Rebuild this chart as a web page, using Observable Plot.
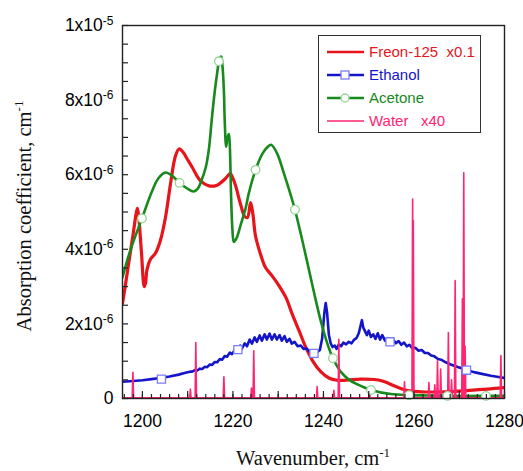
<!DOCTYPE html>
<html><head><meta charset="utf-8">
<script src="https://cdn.jsdelivr.net/npm/d3@7"></script>
<script src="https://cdn.jsdelivr.net/npm/@observablehq/plot@0.6"></script>
<style>
html,body{margin:0;padding:0;background:#fff;}
#wrap{position:relative;width:523px;height:471px;overflow:hidden;}
#legend{position:absolute;left:318px;top:35px;width:163px;height:98px;border:1.5px solid #333;box-sizing:border-box;background:#fff;}
.lrow{position:absolute;left:0;height:20px;line-height:20px;font-family:"Liberation Sans",Arial,sans-serif;font-size:15px;white-space:pre;}
.lrow svg{position:absolute;left:8px;top:0;}
.lrow span{position:absolute;left:50px;top:0;}
</style></head><body><div id="wrap"></div>
<script>
// Values are in units of 1e-6 cm^-1 (as plotted, already scaled)
const freonW = [1195.6,1196.0,1197.0,1198.0,1198.6,1198.9,1199.2,1199.8,1200.4,1200.7,1201.0,1201.8,1202.9,1204.0,1205.1,1206.2,1207.3,1208.1,1209.0,1210.0,1211.0,1212.8,1214.7,1216.5,1218.3,1219.4,1220.0,1220.6,1221.7,1222.6,1223.2,1223.9,1224.4,1225.0,1226.1,1227.2,1228.7,1230.2,1231.7,1233.1,1234.6,1236.1,1237.6,1239.4,1241.2,1243.0,1245.0,1248.2,1251.2,1253.0,1254.1,1256.4,1258.6,1261.5,1266.7,1271.1,1276.2,1280.0];
const freonV = [2.55,2.85,3.65,4.45,4.95,5.10,4.85,3.90,3.00,3.10,3.45,3.74,3.90,4.25,4.86,5.75,6.50,6.69,6.60,6.40,6.20,5.84,5.70,5.72,5.89,6.03,5.90,5.70,5.20,4.88,4.85,5.25,4.95,4.35,3.87,3.51,3.28,3.02,2.71,2.26,1.82,1.37,1.01,0.72,0.55,0.49,0.49,0.52,0.51,0.47,0.42,0.30,0.21,0.18,0.18,0.21,0.25,0.29];

const acetoneW = [1195.6,1197.3,1199.9,1202.1,1203.5,1205.1,1206.5,1208.2,1209.9,1211.3,1212.2,1212.9,1214.0,1214.7,1215.3,1216.0,1216.6,1216.9,1217.4,1217.7,1218.0,1218.2,1218.5,1218.8,1219.1,1219.3,1219.6,1219.9,1220.2,1220.8,1221.7,1222.8,1223.5,1225.0,1226.5,1228.0,1228.5,1229.8,1231.3,1232.8,1233.7,1235.0,1236.5,1237.9,1239.4,1240.9,1242.1,1243.8,1245.7,1247.5,1250.5,1254.9,1258.9,1263.0,1267.4,1275.9,1280.0];
const acetoneV = [3.25,3.96,4.83,5.55,5.90,6.06,5.98,5.78,5.63,5.55,5.62,5.80,6.20,6.70,7.45,8.25,8.80,9.04,9.17,8.90,8.26,7.40,6.75,7.00,7.09,6.80,5.40,4.50,4.20,4.30,4.65,5.10,5.50,6.13,6.56,6.78,6.80,6.56,6.02,5.44,5.06,4.41,3.61,2.85,2.08,1.46,1.08,0.72,0.50,0.38,0.23,0.12,0.09,0.08,0.07,0.07,0.07];
const acetoneMarkW = [1199.9,1208.2,1216.9,1225.0,1233.7,1242.1,1250.5,1258.9,1267.4,1275.9];
const acetoneMarkV = [4.83,5.78,9.04,6.13,5.06,1.08,0.23,0.09,0.07,0.07];

const ethanolW = [1195.6,1198.0,1200.0,1202.0,1204.0,1206.0,1208.0,1209.5,1210.5,1211.0,1211.6,1212.1,1212.7,1213.2,1213.8,1214.3,1214.9,1215.4,1216.0,1216.5,1217.1,1217.6,1218.2,1218.7,1219.3,1219.8,1220.4,1220.9,1221.6,1222.0,1222.6,1223.1,1223.7,1224.2,1224.8,1225.3,1225.9,1226.4,1227.0,1227.5,1228.1,1228.6,1229.2,1229.7,1230.3,1230.8,1231.4,1231.9,1232.5,1233.0,1233.6,1234.3,1235.0,1235.6,1236.3,1237.0,1237.8,1238.6,1239.2,1239.7,1240.2,1240.5,1240.8,1241.2,1241.6,1242.0,1242.5,1242.9,1243.4,1243.9,1244.4,1245.0,1245.6,1246.2,1246.8,1247.3,1247.8,1248.2,1248.5,1248.8,1249.2,1249.6,1250.0,1250.5,1251.0,1251.5,1252.0,1252.5,1253.0,1253.6,1254.2,1254.8,1255.4,1256.0,1256.6,1257.2,1257.8,1258.4,1259.0,1259.6,1260.3,1261.0,1261.7,1262.4,1263.1,1263.8,1264.5,1265.3,1266.0,1267.0,1268.0,1269.0,1270.0,1271.0,1272.0,1273.5,1275.0,1277.0,1279.0,1280.0];
const ethanolV = [0.45,0.47,0.49,0.52,0.55,0.59,0.64,0.69,0.72,0.72,0.76,0.75,0.80,0.79,0.85,0.84,0.91,0.90,0.98,0.97,1.06,1.04,1.14,1.12,1.23,1.19,1.30,1.27,1.42,1.34,1.48,1.40,1.58,1.47,1.64,1.52,1.69,1.55,1.72,1.58,1.74,1.58,1.72,1.58,1.70,1.55,1.67,1.52,1.60,1.47,1.52,1.40,1.42,1.33,1.34,1.25,1.22,1.24,1.30,1.60,2.30,2.56,2.30,1.70,1.48,1.38,1.42,1.33,1.45,1.40,1.50,1.45,1.52,1.48,1.58,1.62,1.75,1.95,2.10,1.90,1.80,1.70,1.82,1.65,1.72,1.60,1.75,1.58,1.70,1.55,1.62,1.52,1.58,1.48,1.54,1.44,1.50,1.40,1.44,1.35,1.36,1.28,1.30,1.22,1.22,1.15,1.13,1.06,1.04,0.97,0.92,0.87,0.83,0.79,0.75,0.70,0.66,0.61,0.57,0.55];
const ethanolMarkW = [1204.2,1221.1,1237.9,1254.7,1271.6];
const ethanolMarkV = [0.52,1.31,1.21,1.52,0.76];

// Water absorption lines (x40): line centre and peak height
const waterLineW = [1197.9,1210.6,1211.8,1218.0,1224.1,1224.6,1238.6,1242.3,1243.4,1250.2,1257.9,1259.7,1259.85,1263.3,1264.6,1265.2,1265.9,1267.6,1268.3,1269.1,1270.7,1271.0,1271.3,1279.2];
const waterLineV = [0.70,0.25,1.50,0.58,0.28,1.28,0.32,0.22,1.59,0.10,0.45,5.35,4.77,0.43,0.37,1.01,0.79,1.77,0.50,3.16,2.67,6.05,1.40,1.15];
const waterBase = 0.02;

const seriesNames = ["Freon-125  x0.1","Ethanol","Acetone","Water   x40"];
const seriesColors = ["#e8141c","#1414c8","#17891d","#ff2474"];
const markerColors = [null,"#7b7bff","#95d595",null];

const xTickLabels = [1200,1220,1240,1260,1280];
const xMinorTicks = d3.range(1196,1281,2);
const xMajorTicks = d3.range(1200,1281,10);
const yTickLabels = [0,2,4,6,8,10];
const yMinorTicks = d3.range(0,10.01,0.5);

const zip = (W,V) => W.map((w,i)=>({w, v:V[i]}));
const freon = zip(freonW, freonV);
const acetone = zip(acetoneW, acetoneV);
const acetoneMarks = zip(acetoneMarkW, acetoneMarkV);
const ethanol = zip(ethanolW, ethanolV);
const ethanolMarks = zip(ethanolMarkW, ethanolMarkV);
const water = [{w:1195.6, v:waterBase}];
waterLineW.forEach((w,i)=>{
  water.push({w:w-0.15, v:waterBase},{w, v:waterLineV[i]},{w:w+0.15, v:waterBase});
});
water.push({w:1280, v:waterBase});

const W = 523, H = 471, mL = 122, mR = 19, mT = 25, mB = 73;
const plotW = W - mL - mR, plotH = H - mT - mB;

const chart = Plot.plot({
  width: W, height: H,
  marginLeft: mL, marginRight: mR, marginTop: mT, marginBottom: mB,
  x: {domain: [1195.6, 1280]},
  y: {domain: [0, 10]},
  style: {fontFamily: "'Liberation Sans', Arial, sans-serif", fontSize: "17.5px", background: "white", color: "black", overflow: "visible"},
  marks: [
    Plot.line(freon, {x: "w", y: "v", stroke: seriesColors[0], strokeWidth: 3.2, curve: "catmull-rom", clip: true}),
    Plot.line(ethanol, {x: "w", y: "v", stroke: seriesColors[1], strokeWidth: 2.6, curve: "linear", clip: true}),
    Plot.line(acetone, {x: "w", y: "v", stroke: seriesColors[2], strokeWidth: 2.6, curve: "catmull-rom", clip: true}),
    Plot.line(water, {x: "w", y: "v", stroke: seriesColors[3], strokeWidth: 1.6, clip: true}),
    Plot.dot(ethanolMarks, {x: "w", y: "v", symbol: "square", r: 4.6, stroke: markerColors[1], fill: "white", strokeWidth: 1.3}),
    Plot.dot(acetoneMarks, {x: "w", y: "v", r: 4.3, stroke: markerColors[2], fill: "white", strokeWidth: 1.3}),
    Plot.frame({stroke: "#222", strokeWidth: 1.4}),
    Plot.tickY(yMinorTicks, {y: d => d, insetRight: plotW - 6, stroke: "#222", strokeWidth: 1.2}),
    Plot.tickX(xMinorTicks, {x: d => d, insetTop: plotH - 4, stroke: "#222", strokeWidth: 1.2}),
    Plot.tickX(xMajorTicks, {x: d => d, insetTop: plotH - 7, stroke: "#222", strokeWidth: 1.2}),
    Plot.axisX({ticks: xTickLabels, tickSize: 0, tickPadding: 16, label: null, tickFormat: d => String(d)}),
    Plot.axisY({ticks: yTickLabels, tickSize: 0, tickPadding: 9, label: null,
      tickFormat: d => d === 0 ? "0" : d === 10 ? "1x10^-5" : d + "x10^-6"})
  ]
});

const svg = d3.select(chart);
// superscripts on y tick labels
svg.selectAll('g[aria-label="y-axis tick label"] text').each(function() {
  const t = d3.select(this);
  const s = t.text();
  if (s.includes("^")) {
    const [base, exp] = s.split("^");
    t.text(base);
    t.append("tspan").attr("dy", "-0.55em").attr("font-size", "12px").text(exp);
  }
});
// axis titles
const serif = "'Liberation Serif', 'Times New Roman', serif";
const xt = svg.append("text").attr("x", 313).attr("y", 465).attr("text-anchor", "middle")
  .attr("font-family", serif).attr("font-size", "20.5px").attr("fill", "#111").text("Wavenumber, cm");
xt.append("tspan").attr("dy", "-0.6em").attr("font-size", "13px").text("-1");
const yt = svg.append("text").attr("transform", "translate(31,216) rotate(-90)").attr("text-anchor", "middle")
  .attr("font-family", serif).attr("font-size", "20.5px").attr("fill", "#111").text("Absorption coefficient, cm");
yt.append("tspan").attr("dy", "-0.6em").attr("font-size", "13px").text("-1");

const wrap = document.getElementById("wrap");
wrap.appendChild(chart);

// legend (inside the plot frame, as in the original)
const legend = document.createElement("div");
legend.id = "legend";
wrap.appendChild(legend);
const rowTops = [6, 29, 52, 75];
seriesNames.forEach((name, i) => {
  const row = document.createElement("div");
  row.className = "lrow";
  row.style.top = rowTops[i] + "px";
  let sample = `<svg width="40" height="20"><line x1="0" y1="10" x2="37" y2="10" stroke="${seriesColors[i]}" stroke-width="${i===3?1.6:2.6}"/>`;
  if (i === 1) sample += `<rect x="14" y="6" width="8" height="8" fill="white" stroke="${markerColors[1]}" stroke-width="1.3"/>`;
  if (i === 2) sample += `<circle cx="18" cy="10" r="4" fill="white" stroke="${markerColors[2]}" stroke-width="1.3"/>`;
  sample += `</svg>`;
  row.innerHTML = sample + `<span style="color:${seriesColors[i]}">${name}</span>`;
  legend.appendChild(row);
});
</script>
</body></html>
